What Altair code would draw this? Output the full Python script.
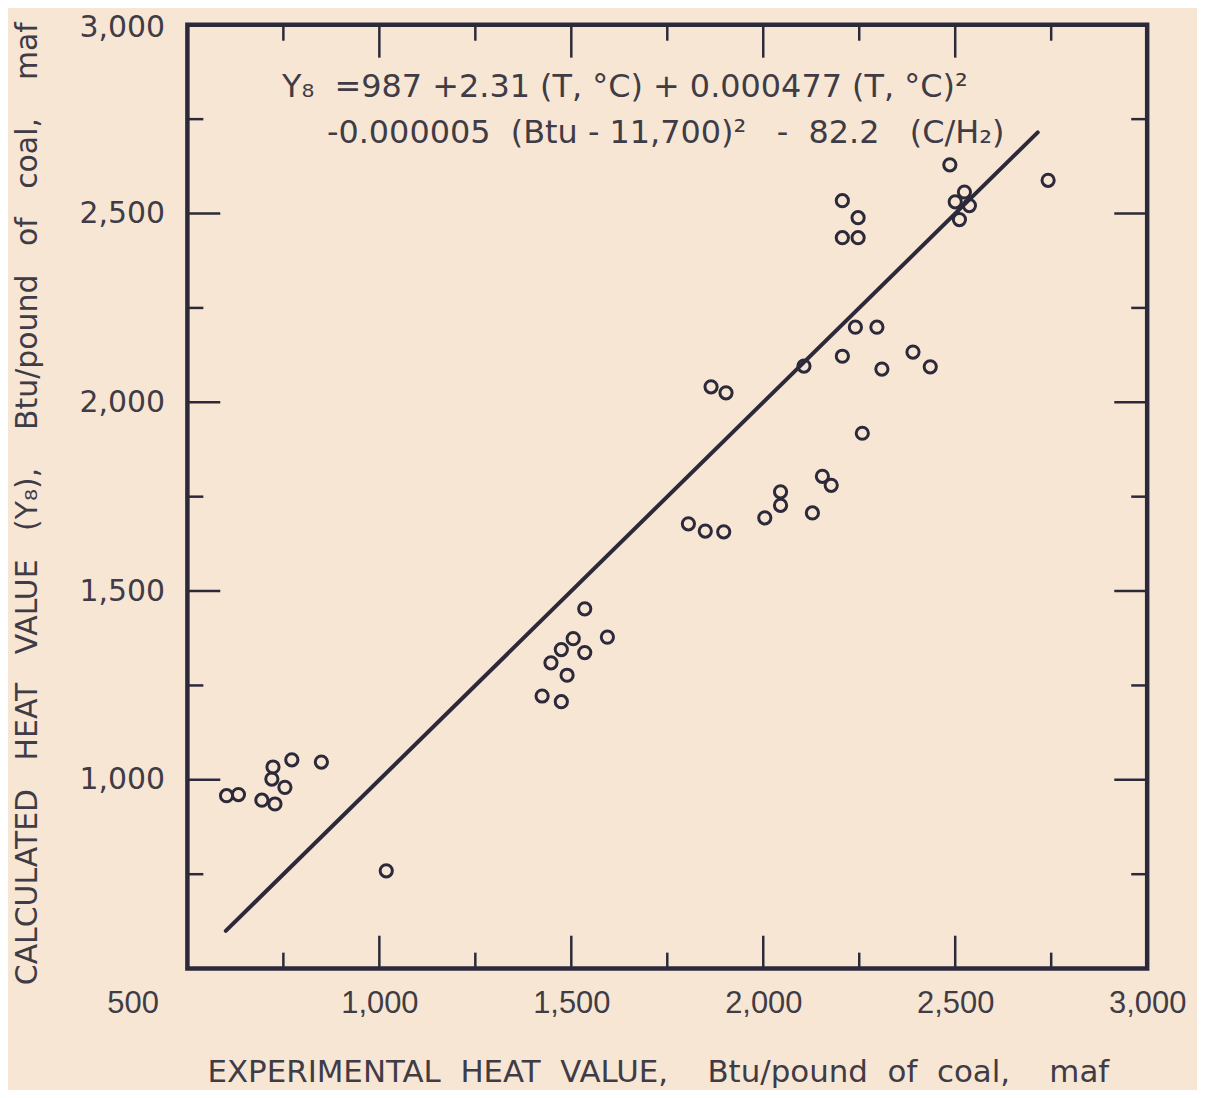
import altair as alt
import pandas as pd

# ---- data ----
exp_x = [602, 633, 723, 772, 849, 720, 754, 694, 728,
         1018,
         1535, 1594, 1505, 1474, 1535, 1447, 1489, 1424, 1474,
         1864, 1903, 2106, 2258, 2154, 2177, 2045, 2045, 2004, 2128, 1805, 1849, 1897,
         2206, 2247, 2206, 2247, 2742, 2524, 2500, 2537, 2511, 2486,
         2240, 2296, 2206, 2309, 2390, 2435]
calc_y = [958, 961, 1034, 1053, 1047, 1002, 980, 946, 936,
          759,
          1453, 1378, 1374, 1345, 1337, 1310, 1277, 1222, 1207,
          2041, 2025, 2096, 1918, 1804, 1780, 1763, 1727, 1694, 1707, 1678, 1659, 1657,
          2534, 2489, 2436, 2436, 2588, 2557, 2531, 2521, 2484, 2629,
          2199, 2199, 2122, 2088, 2133, 2094]

line_x = [600, 2715]
line_y = [600, 2715]

tick_labels = [500, 1000, 1500, 2000, 2500, 3000]
y_tick_labels = [1000, 1500, 2000, 2500, 3000]
major_ticks = [1000, 1500, 2000, 2500]
minor_ticks = [750, 1250, 1750, 2250, 2750]

NB = "\u00a0"
eq_line1 = ("Y\u2088" + NB * 2 + "=987" + NB + "+2.31" + NB + "(T," + NB + "\u00b0C)" + NB +
            "+" + NB + "0.000477" + NB + "(T," + NB + "\u00b0C)\u00b2")
eq_line2 = ("-0.000005" + NB * 2 + "(Btu" + NB + "-" + NB + "11,700)\u00b2" + NB * 3 + "-" +
            NB * 2 + "82.2" + NB * 3 + "(C/H\u2082)")

x_title = ("EXPERIMENTAL" + NB * 2 + "HEAT" + NB * 2 + "VALUE," + NB * 4 + "Btu/pound" + NB * 2 +
           "of" + NB * 2 + "coal," + NB * 4 + "maf")
y_title = ("CALCULATED" + NB * 3 + "HEAT" + NB * 3 + "VALUE" + NB * 3 + "(Y\u2088)," + NB * 4 +
           "Btu/pound" + NB * 3 + "of" + NB * 3 + "coal," + NB * 4 + "maf")

# ---- styling ----
INK = "#2c2a3a"
TXT = "#3f3c46"
BG = "#f8e6d4"
W, H = 963, 947
LONG, SHORT = 33, 16

pts = pd.DataFrame({"x": exp_x, "y": calc_y})
ln = pd.DataFrame({"x": line_x, "y": line_y})
major = pd.DataFrame({"v": major_ticks})
minor = pd.DataFrame({"v": minor_ticks})

xs = alt.Scale(domain=[500, 3000], nice=False, zero=False)
ys = alt.Scale(domain=[500, 3000], nice=False, zero=False)

x_axis = alt.Axis(values=tick_labels, labelExpr="format(datum.value, ',')",
                  labelFont="Liberation Sans",
                  labelFontSize=31, labelColor=TXT, labelPadding=20,
                  labelFlush=False, labelOverlap=False,
                  labelOffset=alt.expr("datum.value == 500 ? -55 : 0"),
                  domain=False, ticks=False, grid=False,
                  title=x_title, titleFont="DejaVu Sans", titleFontSize=31,
                  titleFontWeight="normal", titleColor=TXT,
                  titleX=472, titleY=104, titleAlign="center", titleBaseline="middle")
y_axis = alt.Axis(values=y_tick_labels, labelExpr="format(datum.value, ',')",
                  labelFont="DejaVu Sans",
                  labelFontSize=30, labelColor=TXT, labelPadding=23,
                  labelOverlap=False,
                  labelOffset=alt.expr("datum.value == 3000 ? 3 : 0"),
                  domain=False, ticks=False, grid=False,
                  title=y_title, titleFont="DejaVu Sans", titleFontSize=30,
                  titleFontWeight="normal", titleColor=TXT, titleAngle=-90,
                  titleX=-160, titleY=480, titleAlign="center", titleBaseline="middle")

points = alt.Chart(pts).mark_point(shape="circle", filled=False, size=150,
                                    strokeWidth=3, color=INK, opacity=1).encode(
    x=alt.X("x:Q", scale=xs, axis=x_axis),
    y=alt.Y("y:Q", scale=ys, axis=y_axis),
)

line = alt.Chart(ln).mark_line(color=INK, strokeWidth=4, strokeCap="round").encode(
    x=alt.X("x:Q", scale=xs, axis=x_axis),
    y=alt.Y("y:Q", scale=ys, axis=y_axis),
)

def yticks(df, length, side):
    if side == "left":
        xv, x2v = 0, length
    else:
        xv, x2v = W - length, W
    return alt.Chart(df).mark_rule(color=INK, strokeWidth=2.5).encode(
        y=alt.Y("v:Q", scale=ys, axis=y_axis),
        x=alt.value(xv), x2=alt.value(x2v))

def xticks(df, length, side):
    if side == "top":
        yv, y2v = 0, length
    else:
        yv, y2v = H - length, H
    return alt.Chart(df).mark_rule(color=INK, strokeWidth=2.5).encode(
        x=alt.X("v:Q", scale=xs, axis=x_axis),
        y=alt.value(yv), y2=alt.value(y2v))

tick_layers = [
    yticks(major, LONG, "left"), yticks(minor, SHORT, "left"),
    yticks(major, LONG, "right"), yticks(minor, SHORT, "right"),
    xticks(major, LONG, "top"), xticks(minor, SHORT, "top"),
    xticks(major, LONG, "bottom"), xticks(minor, SHORT, "bottom"),
]

eq1 = alt.Chart(pd.DataFrame({"t": [eq_line1]})).mark_text(
    align="left", baseline="alphabetic", font="DejaVu Sans", fontSize=32,
    color=TXT).encode(x=alt.value(95), y=alt.value(72), text="t:N")
eq2 = alt.Chart(pd.DataFrame({"t": [eq_line2]})).mark_text(
    align="left", baseline="alphabetic", font="DejaVu Sans", fontSize=32,
    color=TXT).encode(x=alt.value(140), y=alt.value(119), text="t:N")

chart = alt.layer(points, line, *tick_layers, eq1, eq2).properties(
    width=W, height=H,
    autosize=alt.AutoSizeParams(type="none"),
    padding={"left": 180, "top": 15, "right": 50, "bottom": 120},
    background=BG,
).configure_view(stroke=INK, strokeWidth=4.5)

chart.save("out.html", embed_options={"renderer": "svg", "actions": False})
